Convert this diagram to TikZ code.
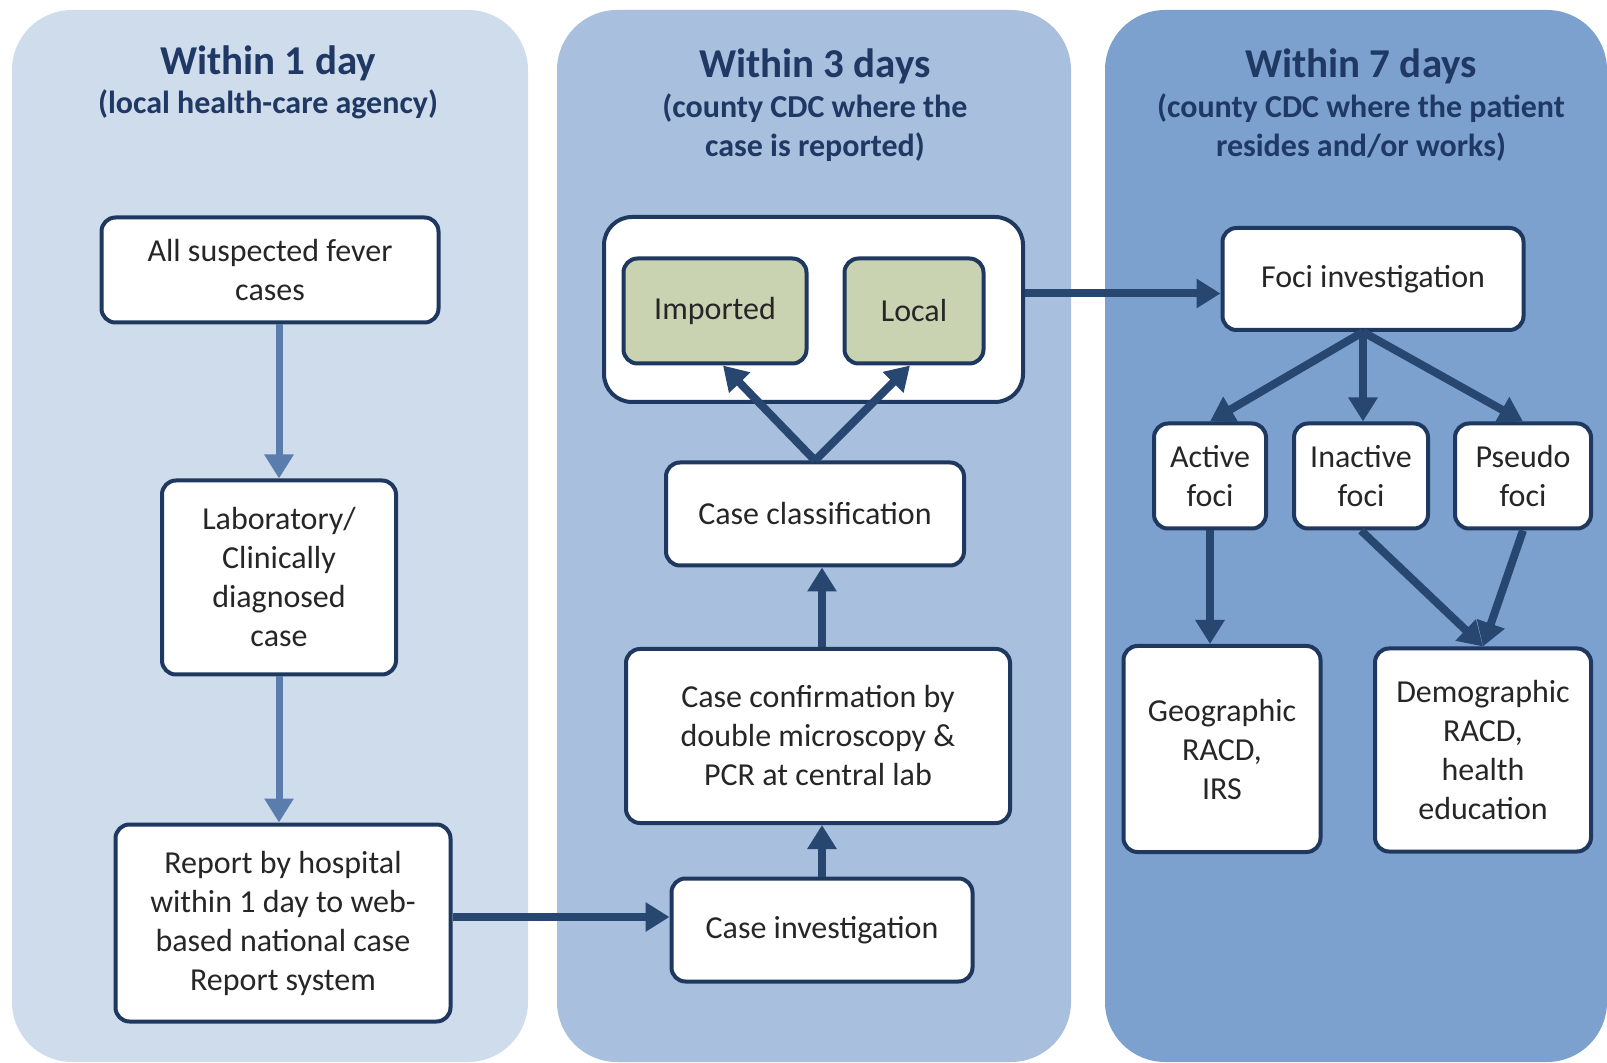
\documentclass[tikz,border=0pt]{standalone}
\usepackage{fontspec}
\setmainfont{Carlito}
\usetikzlibrary{positioning,arrows.meta}

\definecolor{paneone}{HTML}{CEDCEC}
\definecolor{panetwo}{HTML}{A8C0DE}
\definecolor{panethree}{HTML}{7CA1CE}
\definecolor{boxline}{HTML}{1F385F}
\definecolor{arrowblue}{HTML}{274670}
\definecolor{arrowlight}{HTML}{5B7DAE}
\definecolor{titleblue}{HTML}{1F3864}
\definecolor{olivebox}{HTML}{C9D2B1}

\tikzset{
    panel/.style={rounded corners=30pt, draw=none},
    box/.style={draw=boxline, line width=2pt, fill=white, rounded corners=7pt,
        align=center, inner sep=2pt, text=black!85,
        font=\fontsize{16}{19.5}\selectfont},
    greenbox/.style={box, fill=olivebox},
    heading/.style={text=titleblue, font=\bfseries\fontsize{20.5}{24}\selectfont},
    subheading/.style={text=titleblue, align=center, font=\bfseries\fontsize{16}{19.5}\selectfont},
    arr/.style={draw=arrowblue, line width=4pt, -{Triangle[width=14pt,length=12pt]}},
    lightarr/.style={arr, draw=arrowlight, line width=3.5pt}
}

\begin{document}
\begin{tikzpicture}[x=0.5pt, y=-0.5pt]
    \useasboundingbox (0,0) rectangle (1607,1063);
    % three time columns
    \fill[panel, paneone] (12,10) rectangle (528,1062);
    \fill[panel, panetwo] (557,10) rectangle (1071,1062);
    \fill[panel, panethree] (1105,10) rectangle (1607,1062);

    \node[heading] (dayOne) at (268,63) {Within 1 day};
    \node[subheading] (dayOneSub) at (268,104) {(local health-care agency)};
    \node[heading] (dayThree) at (815,66) {Within 3 days};
    \node[subheading] (dayThreeSub) at (815,128) {(county CDC where the\\case is reported)};
    \node[heading] (daySeven) at (1361,66) {Within 7 days};
    \node[subheading] (daySevenSub) at (1361,128) {(county CDC where the patient\\resides and/or works)};

    % local health-care agency
    \node[box, minimum width=168.5pt, minimum height=52.5pt] (suspect) at (270,270) {All suspected fever\\cases};
    \node[box, minimum width=117pt, minimum height=97pt, below=77pt of suspect, xshift=4.5pt] (lab) {Laboratory/\\Clinically\\diagnosed\\case};
    \node[box, minimum width=167.5pt, minimum height=98.5pt, below=73pt of lab, xshift=2pt] (report) {Report by hospital\\within 1 day to web-\\based national case\\Report system};

    % county CDC where reported
    \node[box, minimum width=150.5pt, minimum height=51.5pt] (caseInv) at (822,930) {Case investigation};
    \node[box, minimum width=192pt, minimum height=87pt] (confirm) at (818,736) {Case confirmation by\\double microscopy \&\\PCR at central lab};
    \node[box, minimum width=149pt, minimum height=51.5pt] (classify) at (815,514) {Case classification};
    \node[box, rounded corners=14pt, minimum width=209.5pt, minimum height=92.5pt] (origin) at (813.5,309.5) {};
    \node[greenbox, minimum width=91.5pt, minimum height=52.5pt] (imported) at (715,311) {Imported};
    \node[greenbox, minimum width=69.5pt, minimum height=52.5pt] (local) at (914,311) {Local};

    % county CDC where patient resides
    \node[box, minimum width=150.5pt, minimum height=51pt] (foci) at (1373,279) {Foci investigation};
    \node[box, minimum width=56pt, minimum height=52.5pt] (active) at (1210,476) {Active\\foci};
    \node[box, minimum width=67pt, minimum height=52.5pt] (inactive) at (1361,476) {Inactive\\foci};
    \node[box, minimum width=68pt, minimum height=52.5pt] (pseudo) at (1523,476) {Pseudo\\foci};
    \node[box, minimum width=98.5pt, minimum height=103pt] (geo) at (1222,749) {Geographic\\RACD,\\IRS};
    \node[box, minimum width=108pt, minimum height=101.5pt] (demo) at (1483,750) {Demographic\\RACD,\\health\\education};

    \draw[lightarr] (lab.north |- suspect.south) -- (lab.north);
    \draw[lightarr] (lab.south) -- (lab.south |- report.north);
    \draw[arr] ([yshift=3pt]report.east) -- ([yshift=3pt]report.east -| caseInv.west);
    \draw[arr] (caseInv.north) -- (caseInv.north |- confirm.south);
    \draw[arr] (caseInv.north |- confirm.north) -- (caseInv.north |- classify.south);
    \draw[arr] (classify.north) -- ([xshift=4pt]imported.south);
    \draw[arr] (classify.north) -- ([xshift=-2pt]local.south);
    \draw[arr] ([yshift=8pt]origin.east) -- ([yshift=8pt]origin.east -| foci.west);
    \draw[arr] ([xshift=-5pt]foci.south) -- (active.north);
    \draw[arr] ([xshift=-5pt]foci.south) -- ([xshift=-5pt]foci.south |- inactive.north);
    \draw[arr] ([xshift=-5pt]foci.south) -- (pseudo.north);
    \draw[arr] (active.south) -- (active.south |- geo.north);
    \draw[arr] (inactive.south) -- (demo.north);
    \draw[arr] (pseudo.south) -- (demo.north);
\end{tikzpicture}
\end{document}
